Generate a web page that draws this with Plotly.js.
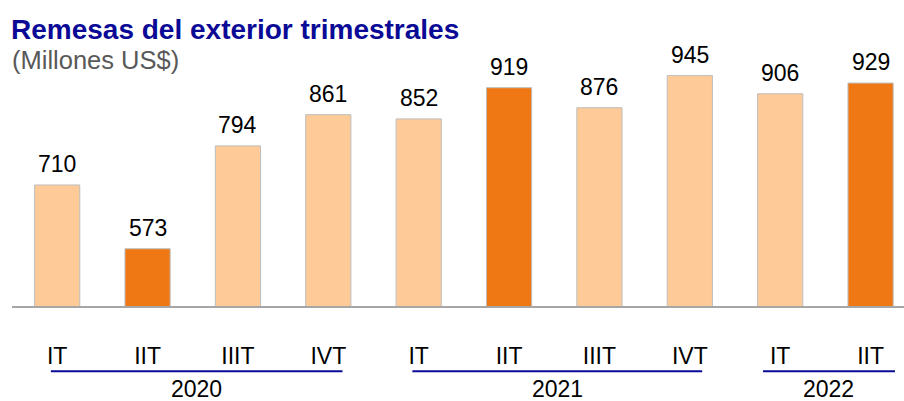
<!DOCTYPE html>
<html>
<head>
<meta charset="utf-8">
<script src="https://cdn.plot.ly/plotly-3.0.1.min.js"></script>
<style>html,body{margin:0;padding:0;background:#fff;}#chart{width:904px;height:401px;}</style>
</head>
<body>
<div id="chart"></div>
<script>
// ---- data ----
const quarters = ['IT','IIT','IIIT','IVT','IT','IIT','IIIT','IVT','IT','IIT'];
const years    = ['2020','2020','2020','2020','2021','2021','2021','2021','2022','2022'];
const values   = [710, 573, 794, 861, 852, 919, 876, 945, 906, 929];
const highlighted = [false, true, false, false, false, true, false, false, false, true];

// ---- styling ----
const FONT = '"Liberation Sans", Arial, sans-serif';
const LIGHT = '#FECB98';
const DARK = '#F07814';
const BLUE = '#0A0A96';
const xIdx = values.map((_, i) => i);
const xMax = 9.37;
// underline extents (in category units) per year group: [left pad, right pad]
const linePads = [[0.07, 0.157], [0.07, 0.137], [0.19, 0.27]];

const bar = {
  type: 'bar',
  x: xIdx,
  y: values,
  width: 0.5,
  marker: {
    color: highlighted.map(h => h ? DARK : LIGHT),
    line: {color: '#BDBDBD', width: 1}
  },
  hoverinfo: 'skip'
};

const annotations = [];
values.forEach((v, i) => {
  annotations.push({
    x: i, y: v, xref: 'x', yref: 'y', text: String(v),
    showarrow: false, yanchor: 'bottom', yshift: 6,
    font: {family: FONT, size: 23, color: '#000000'}
  });
});

// year groups
const groups = [];
years.forEach((y, i) => {
  const g = groups[groups.length - 1];
  if (g && g.year === y) g.end = i; else groups.push({year: y, start: i, end: i});
});
const shapes = [];
groups.forEach((g, k) => {
  const p = linePads[k] || [0.07, 0.15];
  const x0 = g.start - p[0];
  const x1 = Math.min(g.end + p[1], xMax);
  shapes.push({
    type: 'line', xref: 'x', yref: 'paper', x0: x0, x1: x1, y0: -0.255, y1: -0.255,
    line: {color: BLUE, width: 2}
  });
  annotations.push({
    x: (x0 + x1) / 2, y: -0.255, xref: 'x', yref: 'paper', text: g.year, showarrow: false,
    yanchor: 'top', yshift: -3,
    font: {family: FONT, size: 23, color: '#000000'}
  });
});

annotations.push({
  x: 0, y: 1, xref: 'paper', yref: 'paper', text: '(Millones US$)', showarrow: false,
  xanchor: 'left', yanchor: 'bottom', xshift: -2, yshift: -26,
  font: {family: FONT, size: 25.5, color: '#595959'}
});

const layout = {
  width: 904, height: 401,
  margin: {l: 12, r: 0, t: 50, b: 95},
  paper_bgcolor: '#ffffff', plot_bgcolor: '#ffffff',
  showlegend: false,
  title: {
    text: '<b>Remesas del exterior trimestrales</b>',
    font: {family: FONT, size: 28, color: BLUE},
    x: 11 / 904, xref: 'container', xanchor: 'left',
    y: 1 - 19 / 401, yref: 'container', yanchor: 'top'
  },
  xaxis: {
    range: [-0.5, xMax], tickmode: 'array', tickvals: xIdx, ticktext: quarters,
    showgrid: false, zeroline: false, ticks: '', showline: true,
    linecolor: '#A6A6A6', linewidth: 2,
    tickfont: {family: FONT, size: 23, color: '#000000'},
    ticklabelstandoff: 28, fixedrange: true
  },
  yaxis: {
    range: [450, 1000], visible: false, showgrid: false, zeroline: false, fixedrange: true
  },
  shapes: shapes,
  annotations: annotations,
  bargap: 0.5
};

Plotly.newPlot('chart', [bar], layout, {displayModeBar: false, staticPlot: true});
</script>
</body>
</html>
